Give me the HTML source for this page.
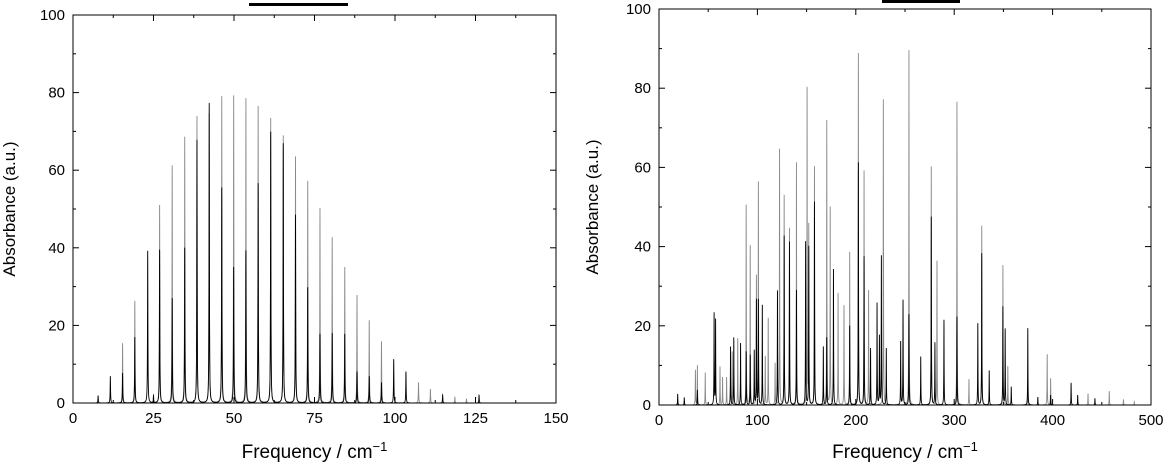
<!DOCTYPE html>
<html><head><meta charset="utf-8">
<style>
html,body{margin:0;padding:0;background:#fff;}
svg{display:block;font-family:"Liberation Sans",Arial,sans-serif;}
</style></head>
<body>
<svg id="chart" width="1173" height="474" viewBox="0 0 1173 474" xmlns="http://www.w3.org/2000/svg">
<rect x="249" y="3" width="99" height="3" fill="#000"/>
<rect x="882" y="0" width="78" height="3" fill="#000"/>
</svg>
<script>
// Left panel data
const leftGreyX = [15.4,19.2,26.9,30.8,34.7,38.5,42.3,46.2,49.9,53.7,57.5,61.4,65.3,69.1,72.9,76.7,80.5,84.4,88.2,92.0,95.8,107.3,111.0,118.6,122.2];
const leftGreyY = [15.4,26.3,51,61.2,68.6,73.9,74.6,79,79.2,78.5,76.5,73.4,68.9,63.5,57.2,50.2,42.7,35,27.8,21.3,15.9,5.3,3.6,1.5,1];
const leftBlackX = [7.8,11.6,15.4,19.2,23.2,25.0,26.9,30.8,34.7,38.5,42.3,46.2,49.9,53.7,57.5,61.4,65.3,69.1,72.9,76.7,80.5,84.4,88.2,92.0,95.8,99.6,103.4,114.8,126.1];
const leftBlackY = [1.9,6.9,7.7,17,39.2,1.9,39.5,27,40,67.8,77.3,55.5,35,39.3,56.6,69.9,66.9,48.5,29.8,17.8,18,17.8,8.1,6.9,5.3,11.3,8.1,2.1,2];
// Right panel data
const rightGreyX = [37,39,47,62,64.6,68.7,74.4,80,88.6,92.7,99,101,108,111,118,122.5,127.2,132.6,139.7,150.5,152.2,158,170.5,174,182,188,193.8,202.6,208.4,213,228,254,276.7,282.5,302.8,315,328,349.5,354.5,374.8,394.5,398,436,457.6,472,483];
const rightGreyY = [8.8,10,8.2,9.7,7,7,13.5,16.8,50.5,40.2,32.4,56.1,12.2,21.9,10.5,64.6,52.9,44.6,61.2,79.8,45,60.2,71.8,49.9,28.2,25.1,38.6,88.8,59.1,28.9,77.2,89.6,60.2,36.4,76.6,6.5,45.3,35.3,9.8,6,12.8,6.7,2.9,3.5,1.4,0.8];
const rightBlackX = [19,25.7,39,56,57.5,72.7,76,82.9,88.6,92.7,96.8,99,101,105,120.4,127.2,132.6,139.7,149,152.2,158,167,170.5,177.3,193.8,202.6,208.4,215,221.6,224,226,231,245.6,248,254,266,276.7,280.4,289.6,302.8,324,328,335.6,349.5,351.8,358,374.8,385,398,418.8,425.5,443];
const rightBlackY = [2.8,1.9,3.8,23.1,21.5,14.7,17,15.6,13.5,12.6,13.7,26.5,26.5,25.2,28.9,42.7,41.2,29,41.2,40,51.3,14.7,17,34.3,20,61.2,37.5,14.3,25.7,17.3,37.6,14.3,16,26.5,22.9,12.2,47.5,15.7,21.5,22.3,20.6,38.3,8.7,24.8,19.2,4.6,19.4,2,2.5,5.6,2.5,1.7];
const yTicks = [0,20,40,60,80,100];
const leftXTicks = [0,25,50,75,100,125,150];
const rightXTicks = [0,100,200,300,400,500];

const NS = 'http://www.w3.org/2000/svg';
const svg = document.getElementById('chart');
function mk(tag, attrs, parent){
  const e = document.createElementNS(NS, tag);
  for (const k in attrs) e.setAttribute(k, attrs[k]);
  (parent||svg).appendChild(e);
  return e;
}

function panel(cfg){
  const g = mk('g', {});
  
  
  const sx = v => cfg.x0 + (v - cfg.xmin) / (cfg.xmax - cfg.xmin) * (cfg.x1 - cfg.x0);
  const sy = v => cfg.y1 - v / 100 * (cfg.y1 - cfg.y0);
  function series(xs, ys, color, nm){
    const pts = [];
    for (let x = cfg.xmin; x <= cfg.xmax; x += cfg.step) pts.push(x);
    xs.forEach(p => pts.push(p));
    pts.sort((a,b)=>a-b);
    const g2 = cfg.gamma*cfg.gamma;
    let d = '';
    pts.forEach((x,i) => {
      let y = 0;
      for (let k=0;k<xs.length;k++){ const dx=x-xs[k]; y += ys[k]*g2/(dx*dx+g2); }
      if (y>100) y=100;
      d += (i?'L':'M') + sx(x).toFixed(2) + ' ' + sy(y).toFixed(2);
    });
    const p = mk('path', {d:d, fill:'none', stroke:color, 'stroke-width':0.9}, g);
    
    
  }
  series(cfg.greyX, cfg.greyY, '#8a8a8a', cfg.name+'-grey-series');
  series(cfg.blackX, cfg.blackY, '#000', cfg.name+'-black-series');
  const fr = mk('rect', {x:cfg.x0, y:cfg.y0, width:cfg.x1-cfg.x0, height:cfg.y1-cfg.y0, fill:'none', stroke:'#000', 'stroke-width':1}, g);
  
  
  const xt = cfg.xTicks;
  for (let i=0;i<xt.length;i++){
    const X = sx(xt[i]);
    mk('line',{x1:X,x2:X,y1:cfg.y1,y2:cfg.y1-6,stroke:'#000'},g);
    mk('line',{x1:X,x2:X,y1:cfg.y0,y2:cfg.y0+6,stroke:'#000'},g);
    if (i<xt.length-1){
      const M = sx((xt[i]+xt[i+1])/2);
      mk('line',{x1:M,x2:M,y1:cfg.y1,y2:cfg.y1-3,stroke:'#000'},g);
      mk('line',{x1:M,x2:M,y1:cfg.y0,y2:cfg.y0+3,stroke:'#000'},g);
    }
    const t = mk('text',{x:X,y:cfg.y1+20,'font-size':15,'text-anchor':'middle',fill:'#000'},g);
    t.textContent = xt[i];
    
    
  }
  for (let i=0;i<yTicks.length;i++){
    const Y = sy(yTicks[i]);
    mk('line',{x1:cfg.x0,x2:cfg.x0+6,y1:Y,y2:Y,stroke:'#000'},g);
    mk('line',{x1:cfg.x1,x2:cfg.x1-6,y1:Y,y2:Y,stroke:'#000'},g);
    if (i<yTicks.length-1){
      const M = sy((yTicks[i]+yTicks[i+1])/2);
      mk('line',{x1:cfg.x0,x2:cfg.x0+3,y1:M,y2:M,stroke:'#000'},g);
      mk('line',{x1:cfg.x1,x2:cfg.x1-3,y1:M,y2:M,stroke:'#000'},g);
    }
    const t = mk('text',{x:cfg.x0-8,y:Y+5,'font-size':15,'text-anchor':'end',fill:'#000'},g);
    t.textContent = yTicks[i];
    
    
  }
  const xtT = mk('text',{x:(cfg.x0+cfg.x1)/2,y:458,'font-size':19,'text-anchor':'middle',fill:'#000'},g);
  xtT.innerHTML = 'Frequency / cm<tspan dy="-7" font-size="13">−1</tspan>';
  
  
  const cy = (cfg.y0+cfg.y1)/2;
  const ytT = mk('text',{x:cfg.ytx,y:cy,'font-size':17,'text-anchor':'middle',fill:'#000',transform:'rotate(-90 '+cfg.ytx+' '+cy+')'},g);
  ytT.textContent = 'Absorbance (a.u.)';
  
  
}

panel({name:'left-panel', x0:73, x1:556, y0:15, y1:403, xmin:0, xmax:150, step:0.015, gamma:0.07,
  greyX:leftGreyX, greyY:leftGreyY, blackX:leftBlackX, blackY:leftBlackY, xTicks:leftXTicks, ytx:15});
panel({name:'right-panel', x0:659, x1:1151, y0:9, y1:405, xmin:0, xmax:500, step:0.04, gamma:0.18,
  greyX:rightGreyX, greyY:rightGreyY, blackX:rightBlackX, blackY:rightBlackY, xTicks:rightXTicks, ytx:598});
</script>
</body></html>
